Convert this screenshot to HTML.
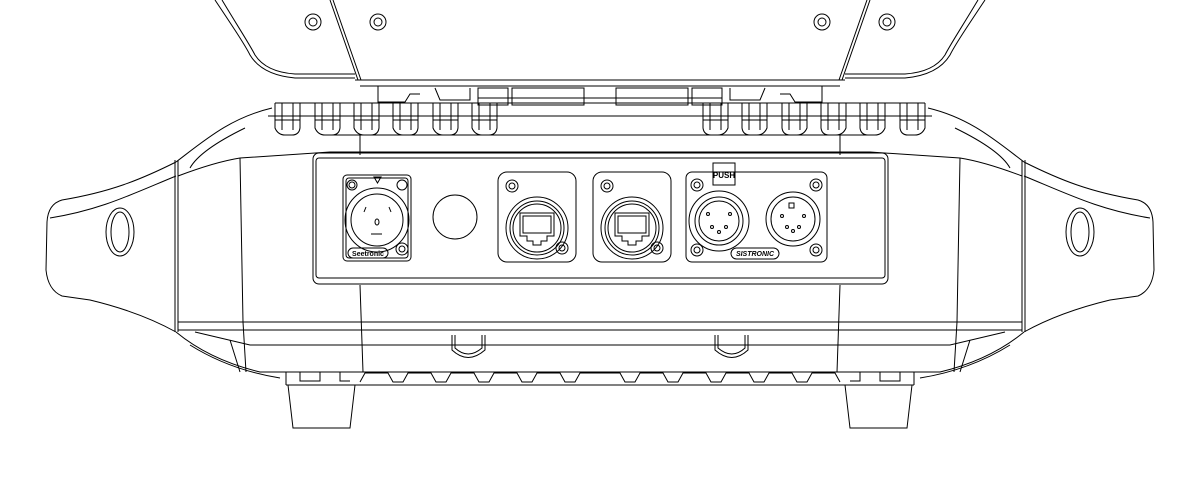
<!DOCTYPE html>
<html><head><style>html,body{margin:0;padding:0;background:#fff}svg{display:block}</style></head>
<body>
<svg width="1200" height="480" viewBox="0 0 1200 480" xmlns="http://www.w3.org/2000/svg" fill="none" stroke="#000" stroke-width="1">
<defs>
<g id="half">
  <path d="M215,0 C235,30 245,45 250,55 Q262,75 295,78 L355,78"/>
  <path d="M222,0 C240,30 250,45 255,55 Q266,72 295,74 L355,74"/>
  <path d="M330,0 L358,80 M333,0 L361,80"/>
  <path d="M355,80 L600,80 M360,86 L600,86"/>
  <circle cx="313" cy="22" r="8"/><circle cx="313" cy="22" r="4"/>
  <circle cx="378" cy="22" r="8"/><circle cx="378" cy="22" r="4"/>
  <path d="M378,86 L378,102 L405,102 L410,94 L420,94 M435,88 L440,100 L470,100 L470,88 M478,98 L600,98"/>
  <rect x="478" y="88" width="30" height="17"/><rect x="512" y="88" width="72" height="17"/>
  <g id="fin"><path d="M275,103 L275,128 Q278,135 285,135 L292,135 Q299,135 300,128 L300,103 M282,103 L282,130 M293,103 L293,130 M275,120 L300,120"/></g>
  <use href="#fin" x="40"/><use href="#fin" x="79"/><use href="#fin" x="118"/><use href="#fin" x="158"/><use href="#fin" x="197"/>
  <path d="M268,116 L600,116 M275,103 L600,103 M330,135 L600,135"/>
  <path d="M176,162 C205,140 230,118 272,108"/>
  <path d="M178,176 Q215,162 240,158 L330,152 L600,152"/>
  <path d="M190,168 Q200,150 245,128"/>
  <path d="M240,158 L243,322 M243,322 L246,372"/>
  <path d="M360,135 L360,155 M360,285 L363,372"/>
  <path d="M176,162 C140,180 110,192 62,200 Q48,204 47,222 L46,270 Q48,290 62,296 L90,300 Q140,312 176,332"/>
  <path d="M176,176 C130,195 100,210 50,218"/>
  <ellipse cx="120" cy="232" rx="14" ry="24"/><ellipse cx="120" cy="232" rx="9" ry="20"/>
  <path d="M175,160 L175,332 M178,160 L178,332"/>
  <path d="M178,322 L600,322 M178,330 L600,330 M195,332 L250,345 L600,345"/>
  <path d="M176,332 Q210,360 260,372 L600,372"/>
  <path d="M190,345 Q230,370 280,378 M230,340 L240,372"/>
  <path d="M286,385 L600,385"/>
  <path d="M286,372 L286,385 M300,372 L300,381 L320,381 L320,372 M340,372 L340,381 L350,381"/>
  <path d="M360,382 L365,373 L388,373 L393,382 L403,382 L408,373 L431,373 L436,382 L446,382 L451,373 L474,373 L479,382 L489,382 L494,373 L517,373 L522,382 L532,382 L537,373 L560,373 L565,382 L575,382 L580,373 L600,373"/>
  <path d="M288,385 L293,428 L350,428 L355,385"/>
  <path d="M452,335 L452,350 Q468,365 485,350 L485,335 M455,335 L455,348 Q468,360 482,348 L482,335"/>
</g>
</defs>
<use href="#half"/>
<use href="#half" transform="translate(1200,0) scale(-1,1)"/>
<rect x="313" y="153" width="575" height="131" rx="6"/>
<rect x="316" y="158" width="569" height="120" rx="3"/>
<rect x="343" y="175" width="68" height="86" rx="4"/>
<rect x="346" y="178" width="62" height="80" rx="3"/>
<circle cx="352" cy="185" r="5"/><circle cx="352" cy="185" r="3"/>
<circle cx="402" cy="185" r="5"/>
<circle cx="402" cy="249" r="6"/><circle cx="402" cy="249" r="3"/>
<path d="M374,177 L381,177 L377.5,183 Z"/>
<circle cx="377" cy="220" r="32"/><circle cx="377" cy="220" r="26"/>
<ellipse cx="377" cy="222" rx="2" ry="3"/><path d="M371,234 L382,234 M364,212 L366,207 M389,207 L391,212"/>
<rect x="348" y="248" width="40" height="10" rx="5"/>
<text x="368" y="256" font-family="Liberation Sans, sans-serif" font-size="7" font-weight="bold" fill="#000" stroke="none" text-anchor="middle">Seetronic</text>
<circle cx="455" cy="217" r="22"/>
<g id="rj">
<rect x="498" y="172" width="78" height="90" rx="9"/>
<circle cx="512" cy="186" r="6"/><circle cx="512" cy="186" r="3"/>
<circle cx="562" cy="248" r="6"/><circle cx="562" cy="248" r="3"/>
<circle cx="537" cy="228" r="31"/><circle cx="537" cy="228" r="27"/><circle cx="537" cy="228" r="24"/>
<path d="M520,213 L554,213 L554,236 L547,236 L547,241 L541,241 L541,245 L533,245 L533,241 L527,241 L527,236 L520,236 Z"/>
<path d="M523,216 L551,216 L551,233 L523,233 Z"/>
</g>
<use href="#rj" x="95"/>
<rect x="686" y="172" width="141" height="90" rx="6"/>
<rect x="713" y="163" width="22" height="22"/>
<text x="724" y="178" font-family="Liberation Sans, sans-serif" font-size="8" font-weight="bold" fill="#000" stroke="none" text-anchor="middle">PUSH</text>
<circle cx="697" cy="185" r="6"/><circle cx="697" cy="185" r="3"/>
<circle cx="816" cy="185" r="6"/><circle cx="816" cy="185" r="3"/>
<circle cx="697" cy="250" r="6"/><circle cx="697" cy="250" r="3"/>
<circle cx="816" cy="250" r="6"/><circle cx="816" cy="250" r="3"/>
<circle cx="719" cy="221" r="30"/><circle cx="719" cy="221" r="24"/><circle cx="719" cy="221" r="20"/>
<circle cx="708" cy="214" r="1.5"/><circle cx="730" cy="214" r="1.5"/><circle cx="712" cy="227" r="1.5"/><circle cx="726" cy="227" r="1.5"/><circle cx="719" cy="232" r="1.5"/>
<circle cx="793" cy="219" r="27"/><circle cx="793" cy="219" r="22"/>
<rect x="789" y="203" width="5" height="5"/>
<circle cx="782" cy="216" r="1.5"/><circle cx="804" cy="216" r="1.5"/><circle cx="787" cy="227" r="1.5"/><circle cx="799" cy="227" r="1.5"/><circle cx="793" cy="231" r="1.5"/>
<rect x="731" y="248" width="48" height="11" rx="5.5"/>
<text x="755" y="256" font-family="Liberation Sans, sans-serif" font-size="7" font-weight="bold" font-style="italic" fill="#000" stroke="none" text-anchor="middle">SISTRONIC</text>
</svg>
</body></html>
